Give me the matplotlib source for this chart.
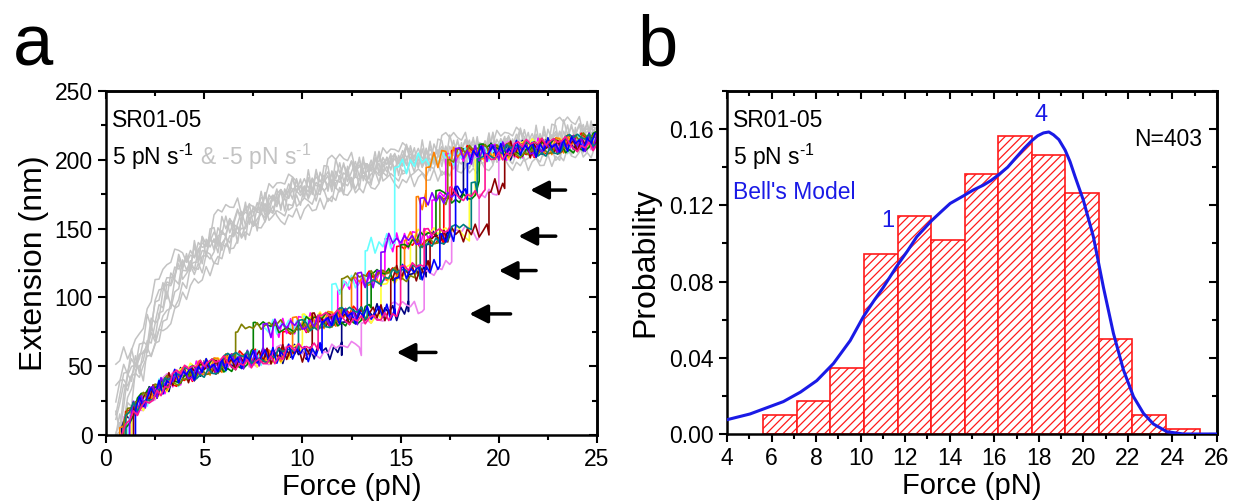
import numpy as np
import matplotlib.pyplot as plt
from matplotlib.ticker import MultipleLocator

plt.rcParams['font.family'] = ['Liberation Sans', 'DejaVu Sans']
plt.rcParams['mathtext.fontset'] = 'custom'
plt.rcParams['mathtext.rm'] = 'Liberation Sans'
plt.rcParams['mathtext.default'] = 'regular'
plt.rcParams['hatch.linewidth'] = 0.9

# ---------------- panel a data ----------------
# extension levels (nm) vs force (pN) for 0..5 unfolded repeats
level0_f = [0.6, 0.9, 1.2, 1.5, 2, 2.5, 3, 3.5, 4, 5, 6, 7, 8, 9, 10, 11, 12, 13, 14, 25]
level0_x = [0, 8, 15, 20, 26, 32, 37, 41, 44, 49, 52, 55, 57, 59, 60, 61, 62, 64, 65, 70]
level1_f = [6, 8, 10, 12, 14, 16, 25]
level1_x = [72, 76, 81, 86, 89, 92, 100]
level2_f = [11, 13, 15, 17, 25]
level2_x = [106, 112, 117, 122, 130]
level3_f = [13, 15, 17, 19, 20, 25]
level3_x = [137, 141, 145, 148, 150, 155]
level4_f = [15, 17, 19, 21, 25]
level4_x = [168, 173, 179, 183, 188]
level5_f = [14, 16, 18, 20, 22, 25]
level5_x = [193, 199, 203, 206, 209, 214]

# unfolding forces of each stretching trace (pN)
trace_colors = ['#000080', '#FF0000', '#FF00FF', '#EE82EE', '#66FFFF', '#FFFF33', '#FF8000',
                '#008000', '#8B0000', '#808000', '#8000FF', '#008080', '#0000FF', '#FF1493']
trace_start = [0.8, 1.0, 1.2, 0.9, 1.1, 1.3, 0.7, 1.0, 1.4, 0.9, 1.2, 1.0, 1.5, 0.8]
trace_steps = [
    [12.0, 15.4, 16.3, 17.5, 18.2],
    [9.0, 13.0, 14.8, 17.2, 17.6],
    [8.5, 11.8, 14.2, 16.6, 17.3],
    [13.0, 16.2, 17.6, 19.0, 20.0],
    [8.0, 11.5, 13.2, 14.7, 14.7],
    [10.0, 14.0, 15.5, 18.5, 18.8],
    [9.5, 12.5, 15.2, 15.8, 16.3],
    [7.5, 13.5, 15.0, 16.8, 19.0],
    [10.5, 14.5, 16.5, 19.5, 20.3],
    [6.6, 12.0, 15.8, 17.0, 17.4],
    [8.0, 12.8, 14.0, 16.0, 17.8],
    [9.8, 13.3, 16.0, 18.6, 18.9],
    [11.0, 14.7, 17.0, 17.8, 18.4],
    [10.8, 15.0, 16.2, 17.5, 19.3],
]
# measurement noise seen on the traces (nm)
jitter_nm = [0.0, 4.5, -3.6, 5.6, -6.2, 1.5, -2.4, 6.7, -4.3, 3.1, -0.8, 4.1, -7.0, 2.5,
             -2.9, 6.2, -1.4, 1.0, -5.2, 3.5, -5.3, 5.0, -0.4, 2.0, -6.4, 2.8, -1.8, 5.5, -4.1]

# relaxation traces (gray)
gray_f = [0.5, 0.7, 1, 1.5, 2, 2.5, 3, 3.5, 4, 5, 6, 7, 8, 9, 10, 11, 12, 13, 14, 15, 16, 18, 20, 22, 25]
gray_x = [5, 25, 38, 50, 62, 80, 98, 110, 120, 132, 144, 155, 163, 170, 176, 181, 186, 190, 193,
          196, 199, 203, 207, 210, 217]
gray_shift_f = [-0.4, -0.25, -0.1, 0.0, 0.1, 0.2, 0.35, 0.5, -0.55]
gray_offset_x = [-5, 3, 0, 6, -3, 4, -6, 1, 7]

arrow_head_f = [21.6, 21.0, 20.0, 18.5, 14.8]
arrow_tail_f = [23.4, 22.9, 21.9, 20.6, 16.8]
arrow_ext = [178, 144.5, 119.5, 88, 60]

# ---------------- panel b data ----------------
bin_edges = [5.63, 7.13, 8.64, 10.15, 11.66, 13.16, 14.67, 16.18, 17.68, 19.19, 20.70, 22.20, 23.71, 25.22]
counts = [4, 7, 14, 38, 46, 41, 55, 63, 59, 51, 20, 4, 1]
N = 403
bell_f = [4, 5.03, 6.53, 7.3, 8.03, 8.78, 9.53, 10.12, 10.6, 11.02, 11.62, 12.1, 12.52, 13.19,
          13.6, 14.02, 14.62, 15.05, 15.51, 15.85, 16.19, 16.6, 17.01, 17.35, 17.69, 17.95, 18.21,
          18.45, 18.66, 18.9, 19.18, 19.4, 19.63, 20.0, 20.45, 20.9, 21.35, 21.8, 22.25, 22.7,
          23.15, 23.75, 24.5, 26]
bell_p = [0.0075, 0.0105, 0.017, 0.022, 0.028, 0.037, 0.049, 0.0615, 0.070, 0.077, 0.088, 0.096,
          0.1035, 0.112, 0.1165, 0.121, 0.125, 0.128, 0.1306, 0.133, 0.136, 0.140, 0.1455, 0.150,
          0.154, 0.1565, 0.158, 0.1585, 0.157, 0.1545, 0.149, 0.143, 0.135, 0.1227, 0.1035,
          0.077, 0.0528, 0.0336, 0.0196, 0.0108, 0.0052, 0.0012, 0.0, 0.0]

levels = [(level0_f, level0_x), (level1_f, level1_x), (level2_f, level2_x),
          (level3_f, level3_x), (level4_f, level4_x), (level5_f, level5_x)]


def level(n, f):
    lf, lx = levels[n]
    return np.interp(f, lf, lx)


def noise(i, k):
    return jitter_nm[(i * (1 + k % 4) + 7 * k) % len(jitter_nm)]


def staircase(start, steps, k):
    grid = np.arange(start, 25.001, 0.2)
    fs, xs = [start], [0.0]
    n = 0
    for i, f in enumerate(grid):
        j = noise(i, k)
        while n < len(steps) and steps[n] <= f:
            s = steps[n]
            fs += [s, s]
            xs += [level(n, s) + j, level(n + 1, s) + j]
            n += 1
        fs.append(f)
        xs.append(level(n, f) + j)
    return fs, np.clip(xs, 0, None)


def style_axes(ax, xmaj, xmin, ymaj, ymin):
    for sp in ax.spines.values():
        sp.set_linewidth(1.8)
    ax.xaxis.set_major_locator(MultipleLocator(xmaj))
    ax.xaxis.set_minor_locator(MultipleLocator(xmin))
    ax.yaxis.set_major_locator(MultipleLocator(ymaj))
    ax.yaxis.set_minor_locator(MultipleLocator(ymin))
    ax.tick_params(which='both', direction='out', width=1.5, labelsize=16.5)
    ax.tick_params(which='major', length=6)
    ax.tick_params(which='minor', length=3.5)
    top = ax.secondary_xaxis('top')
    right = ax.secondary_yaxis('right')
    for sec, axis in ((top, top.xaxis), (right, right.yaxis)):
        axis.set_major_locator(MultipleLocator(xmaj if sec is top else ymaj))
        axis.set_minor_locator(MultipleLocator(xmin if sec is top else ymin))
        sec.tick_params(which='both', direction='in', width=1.5, labeltop=False, labelright=False)
        sec.tick_params(which='major', length=6)
        sec.tick_params(which='minor', length=3.5)
        for sp in sec.spines.values():
            sp.set_linewidth(1.8)


fig = plt.figure(figsize=(12.33, 5.04), dpi=100)
ax_a = fig.add_axes([106 / 1233, 1 - 435 / 504, 491 / 1233, 344 / 504])
ax_b = fig.add_axes([727 / 1233, 1 - 434 / 504, 490 / 1233, 343 / 504])

# ---- panel a ----
for k, (sf, ox) in enumerate(zip(gray_shift_f, gray_offset_x)):
    grid = np.arange(0.5, 25.001, 0.2)
    ext = np.interp(grid - sf, gray_f, gray_x) + ox
    jit = np.array([noise(i, k + 3) for i in range(len(grid))]) * 1.5
    ext = np.clip(ext + jit, 0, None)
    ax_a.plot(grid, ext, color='#c3c3c3', lw=1.1, zorder=1)

for k, (c, st, steps) in enumerate(zip(trace_colors, trace_start, trace_steps)):
    fs, xs = staircase(st, steps, k)
    ax_a.plot(fs, xs, color=c, lw=1.2, zorder=2)

for hf, tf, ey in zip(arrow_head_f, arrow_tail_f, arrow_ext):
    ax_a.annotate('', xy=(hf, ey), xytext=(tf, ey),
                  arrowprops=dict(arrowstyle='-|>,head_length=0.55,head_width=0.28',
                                  lw=2.5, color='k', shrinkA=0, shrinkB=0, mutation_scale=20))

ax_a.set_xlim(0, 25)
ax_a.set_ylim(0, 250)
style_axes(ax_a, 5, 2.5, 50, 25)
ax_a.set_xlabel('Force (pN)', fontsize=21, labelpad=1)
ax_a.set_ylabel('Extension (nm)', fontsize=23, labelpad=4)
ax_a.text(0.012, 0.895, 'SR01-05', transform=ax_a.transAxes, fontsize=16.5)
ta = ax_a.text(0.012, 0.785, r'5 pN s$^{\text{-1}}$', transform=ax_a.transAxes, fontsize=16.5)
ax_a.annotate(r' & -5 pN s$^{\text{-1}}$', xycoords=ta, xy=(1, 0), va='bottom', fontsize=16.5,
              color='#c3c3c3')

# ---- panel b ----
edges = np.array(bin_edges)
prob = np.array(counts) / N
ax_b.bar(edges[:-1], prob, width=np.diff(edges), align='edge', facecolor='white',
         edgecolor='#ff1a1a', hatch='////', lw=1.2, zorder=1)
ax_b.plot(bell_f, bell_p, color='#1a1ae6', lw=2.2, zorder=3)
ax_b.set_xlim(4, 26)
ax_b.set_ylim(0, 0.18)
style_axes(ax_b, 2, 1, 0.04, 0.02)
ax_b.yaxis.set_major_formatter(plt.FuncFormatter(lambda v, p: f'{v:.2f}'))
ax_b.set_xlabel('Force (pN)', fontsize=21, labelpad=1)
ax_b.set_ylabel('Probability', fontsize=23, labelpad=6)
ax_b.text(0.012, 0.895, 'SR01-05', transform=ax_b.transAxes, fontsize=16.5)
ax_b.text(0.012, 0.785, r'5 pN s$^{\text{-1}}$', transform=ax_b.transAxes, fontsize=16.5)
ax_b.text(0.012, 0.685, "Bell's Model", transform=ax_b.transAxes, fontsize=16.5, color='#1a1ae6')
ax_b.text(0.969, 0.84, 'N=403', transform=ax_b.transAxes, fontsize=16.5, ha='right')
ax_b.text(11.2, 0.112, '1', fontsize=17, color='#1a1ae6', ha='center', va='center')
ax_b.text(18.1, 0.1675, '4', fontsize=17, color='#1a1ae6', ha='center', va='center')

fig.text(13 / 1233, 1 - 65 / 504, 'a', fontsize=52, ha='left', va='baseline')
fig.text(637 / 1233, 1 - 65 / 504, 'b', fontsize=52, ha='left', va='baseline')

fig.savefig('out.png', dpi=100)
